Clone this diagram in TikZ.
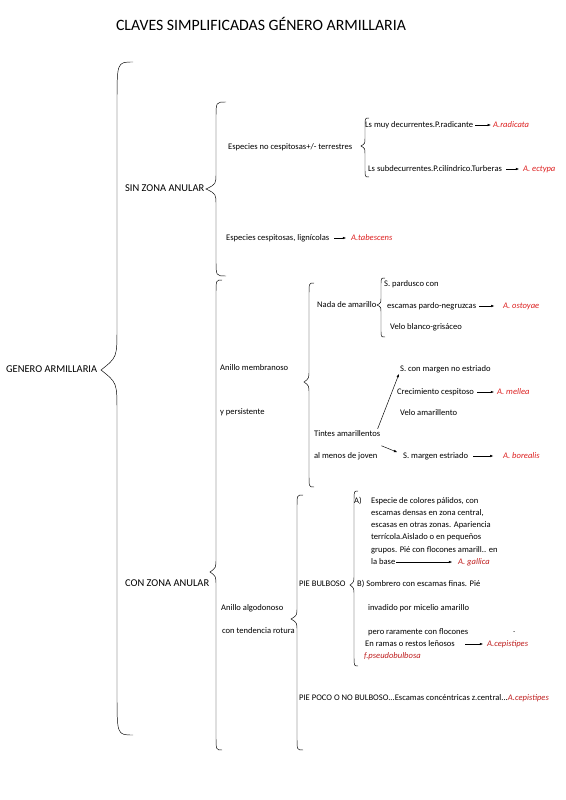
\documentclass[tikz,border=0pt]{standalone}
\usepackage{fontspec}
\setmainfont{Carlito}
\usetikzlibrary{arrows.meta}
\definecolor{keyred}{RGB}{220,30,30}
\definecolor{keyreddark}{RGB}{190,30,30}

\begin{document}
\begin{tikzpicture}[x = 1.0512pt, y = -1.0512pt,
  txt/.style = {anchor = west, inner sep = 1pt, font = \fontsize{9}{10}\selectfont},
  bigtxt/.style = {anchor = west, inner sep = 1pt, font = \fontsize{11}{12}\selectfont},
  species/.style = {anchor = west, inner sep = 1pt, text = keyred, font = \fontsize{9}{10}\selectfont\itshape},
  speciesdark/.style = {species, text = keyreddark},
  keyarrow/.style = {-{Latex[length=3.5pt,width=2.6pt]}, line width = 0.5pt},
  braceline/.style = {line width = 0.5pt}]
\useasboundingbox (0,0) rectangle (566,800);

% braces: x of the stem / top / tip / bottom / width / bend
\foreach \xv/\bt/\bm/\bb/\w/\r in {117/62/370/735/16/42, 216/102/189/276/10/16,
  365/118/146/177/4/8, 216/280/572/750/6/14, 309/283/382/487/5/12,
  381/278/305/337/4/7, 297/495/619/750/6/12, 354/491/585/666/4/10}
{
  \draw[braceline] (\xv+\w,\bt) .. controls (\xv,\bt) .. (\xv,\bt+\r)
    -- (\xv,\bm-\r) .. controls (\xv,\bm-0.3*\r) .. (\xv-\w,\bm)
    .. controls (\xv,\bm+0.3*\r) .. (\xv,\bm+\r)
    -- (\xv,\bb-\r) .. controls (\xv,\bb) .. (\xv+\w,\bb);
}

\node[inner sep = 1pt, font = \fontsize{16.6}{18}\selectfont] (title) at (261,24) {CLAVES SIMPLIFICADAS GÉNERO ARMILLARIA};
\node[bigtxt] (genero) at (5,369) {GENERO ARMILLARIA};
\node[bigtxt] (sinzona) at (124,188) {SIN ZONA ANULAR};
\node[bigtxt] (conzona) at (124,583) {CON ZONA ANULAR};

% sin zona anular
\node[txt] (nocesp) at (227,147) {Especies no cespitosas+/- terrestres};
\node[txt] (muydec) at (364,125) {Ls muy decurrentes.P.radicante};
\node[species] (radicata) at (492,125) {A.radicata};
\node[txt] (subdec) at (367,169) {Ls subdecurrentes.P.cilíndrico.Turberas};
\node[species] (ectypa) at (522,169) {A. ectypa};
\node[txt] (cesp) at (225,238) {Especies cespitosas, lignícolas};
\node[species] (tabescens) at (350,238) {A.tabescens};

% anillo membranoso
\node[txt] (membr) at (219,368) {Anillo membranoso};
\node[txt] (persist) at (219,412) {y persistente};
\node[txt] (nada) at (316,305) {Nada de amarillo};
\node[txt] (pardusco) at (383,284) {S. pardusco con};
\node[txt] (negruzcas) at (386,306) {escamas pardo-negruzcas};
\node[species] (ostoyae) at (502,306) {A. ostoyae};
\node[txt] (veloblanco) at (389,327) {Velo blanco-grisáceo};
\node[txt] (noestr) at (399,369) {S. con margen no estriado};
\node[txt] (crec) at (396,392) {Crecimiento cespitoso};
\node[species] (mellea) at (496,392) {A. mellea};
\node[txt] (veloam) at (399,413) {Velo amarillento};
\node[txt] (tintes) at (313,434) {Tintes amarillentos};
\node[txt] (joven) at (313,456) {al menos de joven};
\node[txt] (estr) at (402,456) {S. margen estriado};
\node[species] (borealis) at (502,456) {A. borealis};

% anillo algodonoso
\node[txt] (algod) at (220,608) {Anillo algodonoso};
\node[txt] (rotura) at (221,631) {con tendencia rotura};
\node[txt] (bulboso) at (298,584) {PIE BULBOSO};
\node[txt] (optA) at (353,501) {A)};
\foreach \ln [count = \i] in {{Especie de colores pálidos, con}, {escamas densas en zona central,},
  {escasas en otras zonas. Apariencia}, {terrícola.Aislado o en pequeños},
  {grupos. Pié con flocones amarill.. en}}
{
  \node[txt] (lineA\i) at (370,{488.8+12.2*\i}) {\ln};
}
\node[txt] (base) at (370,562) {la base};
\node[speciesdark] (gallica) at (457,562) {A. gallica};
\node[txt] (optB) at (356,584) {B)\ Sombrero con escamas finas. Pié};
\node[txt] (micelio) at (367,608) {invadido por micelio amarillo};
\node[txt] (pero) at (367,632) {pero raramente con flocones};
\node[txt] (dot) at (512,632) {.};
\node[txt] (ramas) at (364,644) {En ramas o restos leñosos};
\node[speciesdark] (cepist) at (486,644) {A.cepistipes};
\node[speciesdark] (pseudob) at (363,656) {f.pseudobulbosa};
\node[txt] (poco) at (298,698) {PIE POCO O NO BULBOSO...Escamas concéntricas z.central...\textcolor{keyreddark}{\itshape A.cepistipes}};

% arrows
\draw[keyarrow, shorten <= 1pt, shorten >= 1pt] (muydec.east) -- (radicata.west);
\draw[keyarrow, shorten <= 3pt, shorten >= 3pt] (subdec.east) -- (ectypa.west);
\draw[keyarrow, shorten <= 4pt, shorten >= 4pt] (cesp.east) -- (tabescens.west);
\draw[keyarrow, shorten <= 2pt, shorten >= 8pt] (negruzcas.east) -- (ostoyae.west);
\draw[keyarrow, shorten <= 2pt, shorten >= 2pt] (crec.east) -- (mellea.west);
\draw[keyarrow, shorten <= 4pt, shorten >= 9pt] (estr.east) -- (borealis.west);
\draw[keyarrow] ([xshift = -4pt, yshift = 1pt]tintes.north east) -- (noestr.south west);
\draw[keyarrow] ([yshift = -8pt]tintes.south east) -- ([xshift = -5pt, yshift = 4pt]estr.west);
\draw[keyarrow, shorten >= 5pt] (base.east) -- (gallica.west);
\draw[keyarrow, shorten <= 10pt, shorten >= 3pt] (ramas.east) -- (cepist.west);
\end{tikzpicture}
\end{document}
